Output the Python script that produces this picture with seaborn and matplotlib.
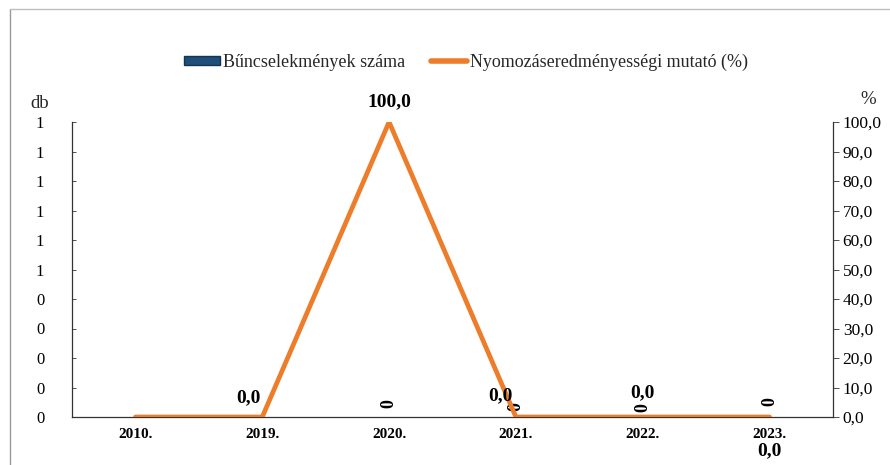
import matplotlib
matplotlib.use("Agg")
import matplotlib.pyplot as plt
import seaborn as sns
import pandas as pd
import numpy as np
from matplotlib.lines import Line2D
from matplotlib.patches import Patch

years = ["2010.", "2019.", "2020.", "2021.", "2022.", "2023."]
crime_counts = [0, 0, 0, 0, 0, 0]
clearance_pct = [0.0, 0.0, 100.0, 0.0, 0.0, 0.0]
count_labels = ["", "", "0", "0", "0", "0"]
pct_labels = ["", "0,0", "100,0", "0,0", "0,0", "0,0"]
left_ticks = [0.0, 0.1, 0.2, 0.3, 0.4, 0.5, 0.6, 0.7, 0.8, 0.9, 1.0]
left_ticklabels = ["0", "0", "0", "0", "0", "1", "1", "1", "1", "1", "1"]
right_ticks = [0, 10, 20, 30, 40, 50, 60, 70, 80, 90, 100]

sns.set_theme(style="white")
plt.rcParams["font.family"] = ["Liberation Serif", "DejaVu Serif"]

BLUE = "#1f4e79"
ORANGE = "#ee7d2b"

df = pd.DataFrame({"year": years, "count": crime_counts,
                   "pct": clearance_pct, "pos": np.arange(len(years))})

fig = plt.figure(figsize=(8.9, 4.65), dpi=100)
ax = fig.add_axes([72 / 890, 1 - 417 / 465, (833 - 72) / 890, (417 - 122) / 465])

sns.barplot(data=df, x="year", y="count", color=BLUE, ax=ax, width=0.5)
ax.set_ylim(0, 1.0)
ax.set_xlim(-0.5, len(years) - 0.5)
ax.set_yticks(left_ticks)
ax.set_yticklabels(left_ticklabels)
ax.set_xlabel("")
ax.set_ylabel("")

ax2 = ax.twinx()
sns.lineplot(data=df, x="pos", y="pct", color=ORANGE, linewidth=3.4,
             ax=ax2, solid_capstyle="round", solid_joinstyle="miter")
ax2.set_ylim(0, 100)
ax2.set_xlim(-0.5, len(years) - 0.5)
ax2.set_yticks(right_ticks)
ax2.set_yticklabels([f"{v:.1f}".replace(".", ",") for v in right_ticks])
ax2.set_xlabel("")
ax2.set_ylabel("")

for a in (ax, ax2):
    a.spines["top"].set_visible(False)
    for s in a.spines.values():
        s.set_color("#333333")
        s.set_linewidth(0.9)
    a.grid(False)

ax.spines["right"].set_visible(False)
ax2.spines["left"].set_visible(False)
ax2.spines["bottom"].set_visible(False)

ax.tick_params(axis="y", direction="in", length=3, width=0.6, colors="#333333",
               labelsize=12, pad=23, labelcolor="black", left=True)
for lab in ax.get_yticklabels():
    lab.set_horizontalalignment("center")
ax.tick_params(axis="x", length=0, pad=8, labelsize=11, labelcolor="black")
for lab in ax.get_xticklabels():
    lab.set_fontweight("bold")
ax2.tick_params(axis="y", direction="out", length=4, width=0.6, colors="#333333",
                labelsize=12.5, pad=3, labelcolor="black", right=True)

# bar labels (rotated zeros)
bar_offsets = [0, 0, 10, 7.5, 6.5, 11]
for i, (v, t) in enumerate(zip(crime_counts, count_labels)):
    if t:
        ax.annotate(t, (i, v), xytext=(0, bar_offsets[i]), textcoords="offset points",
                    ha="center", va="center", rotation=90, fontsize=13,
                    fontweight="bold", color="black")

# line labels
offsets = [(0, 0), (-10, 14), (0, 14.5), (-11.5, 15), (0, 17.5), (0, -24.5)]
for i, (v, t) in enumerate(zip(clearance_pct, pct_labels)):
    if t:
        ax2.annotate(t, (i, v), xytext=offsets[i], textcoords="offset points",
                     ha="center", va="center", fontsize=14, fontweight="bold",
                     color="black")

fig.text(40 / 890, 1 - 103 / 465, "db", ha="center", va="center", fontsize=13.5)
fig.text(868 / 890, 1 - 99 / 465, "%", ha="center", va="center", fontsize=13.5)

handles = [Patch(facecolor=BLUE, edgecolor="#14344f"),
           Line2D([0], [0], color=ORANGE, linewidth=4, solid_capstyle="round")]
fig.legend(handles, ["Bűncselekmények száma", "Nyomozáseredményességi mutató (%)"],
           loc="center", bbox_to_anchor=(466 / 890, 1 - 62 / 465), ncol=2,
           frameon=False, fontsize=13, handlelength=2.0, handleheight=0.4,
           handletextpad=0.2, columnspacing=1.4)

# outer frame (left and top)
fig.add_artist(Line2D([10 / 890, 10 / 890], [0, 1 - 9 / 465], color="#9a9a9a",
                      linewidth=1.0, transform=fig.transFigure))
fig.add_artist(Line2D([10 / 890, 1], [1 - 9 / 465, 1 - 9 / 465], color="#bdbdbd",
                      linewidth=1.0, transform=fig.transFigure))

fig.savefig("out.png", dpi=100)
